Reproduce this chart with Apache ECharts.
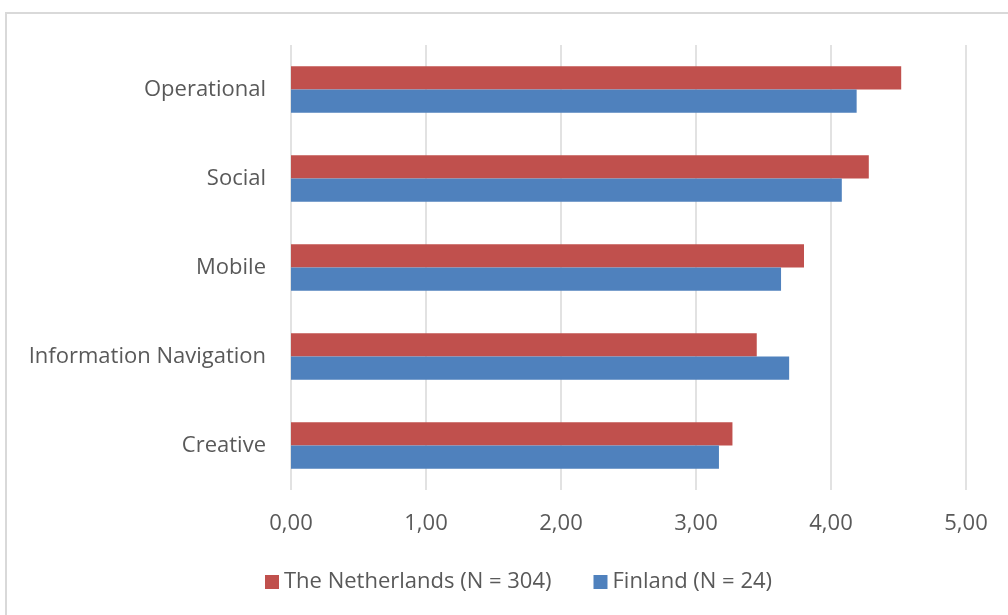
<!DOCTYPE html>
<html lang="en">
<head>
    <meta charset="UTF-8">
    <title>Skills</title>
    <script src="https://cdn.jsdelivr.net/npm/echarts@6/dist/echarts.min.js"></script>
    <style>
        html, body { margin: 0; padding: 0; background: #fff; }
        #frame {
            position: absolute; left: 5px; top: 12px; width: 1010px; height: 610px;
            border: 2px solid #d9d9d9; box-sizing: border-box;
        }
        #chart1 { position: absolute; left: 0; top: 0; width: 1008px; height: 615px; }
    </style>
</head>
<body>
<div id="frame"></div>
<div id="chart1"></div>
<script type="text/javascript">
    // data
    var categories = ['Operational', 'Social', 'Mobile', 'Information Navigation', 'Creative'];
    var netherlands = [4.52, 4.28, 3.80, 3.45, 3.27];
    var finland = [4.19, 4.08, 3.63, 3.69, 3.17];
    var seriesNames = ['The Netherlands (N = 304)', 'Finland (N = 24)'];

    var textColor = '#595959';
    var font = 'Open Sans';

    var myChart1 = echarts.init(document.getElementById('chart1'));
    myChart1.setOption({
        animation: false,
        textStyle: { fontFamily: font },
        legend: {
            data: seriesNames,
            top: 566,
            left: 260,
            itemWidth: 14,
            itemHeight: 14,
            itemGap: 42,
            icon: 'rect',
            textStyle: { color: textColor, fontSize: 22, fontFamily: font }
        },
        grid: { left: 291, right: 42, top: 45, bottom: 125 },
        xAxis: {
            type: 'value',
            min: 0,
            max: 5,
            interval: 1,
            axisLine: { show: false },
            axisTick: { show: false },
            axisLabel: {
                color: textColor, fontSize: 22, fontFamily: font, margin: 23,
                formatter: function (v) { return v.toFixed(2).replace('.', ','); }
            },
            splitLine: { lineStyle: { color: '#d9d9d9', width: 1.5 } }
        },
        yAxis: {
            type: 'category',
            data: categories,
            inverse: true,
            axisLine: { show: false },
            axisTick: { show: false },
            axisLabel: { color: textColor, fontSize: 22, fontFamily: font, margin: 25, padding: [2, 0, 0, 0] }
        },
        series: [
            {
                name: seriesNames[0],
                type: 'bar',
                data: netherlands,
                barGap: '0%',
                barCategoryGap: '48%',
                itemStyle: { color: '#c0504d' }
            },
            {
                name: seriesNames[1],
                type: 'bar',
                data: finland,
                itemStyle: { color: '#4f81bd' }
            }
        ]
    });
</script>
</body>
</html>
